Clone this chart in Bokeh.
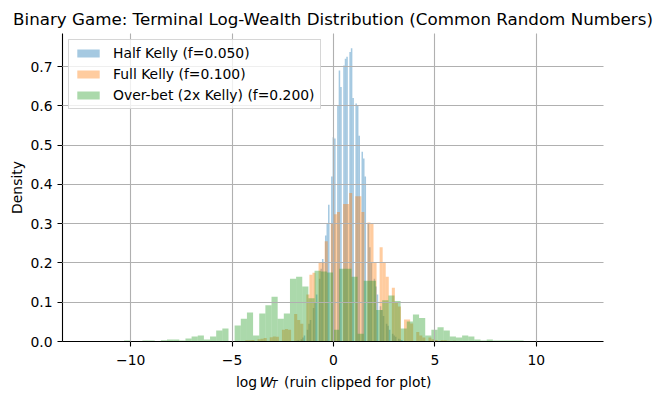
import numpy as np
from bokeh.plotting import figure
from bokeh.layouts import column
from bokeh.models import Range1d, FixedTicker, PrintfTickFormatter, Label, ColumnDataSource
from bokeh.embed import file_html
from bokeh.resources import INLINE

# ---- data ----
series_labels = ["Half Kelly (f=0.050)", "Full Kelly (f=0.100)", "Over-bet (2x Kelly) (f=0.200)"]
series_colors = ["#1f77b4", "#ff7f0e", "#2ca02c"]

# histogram bin ranges (80 bins each)
half_range = (-2.07, 3.93)
full_range = (-4.8, 7.24)
over_range = (-12.15, 12.1)

half_density = [
    0, 0, 0.001, 0.002, 0.003, 0, 0.006, 0.01, 0.015, 0,
    0.03, 0.045, 0.055, 0, 0.085, 0.1, 0.12, 0, 0.16, 0.185,
    0.21, 0, 0.27, 0.30, 0.348, 0, 0.42, 0.52, 0.517, 0,
    0.60, 0.69, 0.648, 0, 0.703, 0.72, 0.725, 0, 0.737, 0.747,
    0.62, 0, 0.606, 0.60, 0.524, 0, 0.483, 0.466, 0.42, 0,
    0.30, 0.24, 0.20, 0, 0.16, 0.14, 0.12, 0, 0.09, 0.08,
    0.065, 0, 0.045, 0.04, 0.03, 0, 0.02, 0.015, 0.012, 0,
    0.007, 0.005, 0.004, 0, 0.002, 0.0015, 0.001, 0, 0.0005, 0.0005,
]
full_density = [
    0, 0, 0, 0.003, 0.003, 0.004, 0, 0.006, 0.007, 0.009,
    0, 0.011, 0.013, 0.012, 0, 0.03, 0.032, 0.03, 0, 0.07,
    0.055, 0.045, 0, 0.12, 0.17, 0.175, 0, 0.2, 0.2, 0.255,
    0, 0.3, 0.324, 0.33, 0, 0.35, 0.35, 0.378, 0, 0.37,
    0.37, 0.33, 0, 0.303, 0.3, 0.2, 0, 0.24, 0.2, 0.165,
    0, 0.137, 0.1, 0.089, 0, 0.056, 0.056, 0.046, 0, 0.024,
    0.015, 0.01, 0, 0.01, 0.006, 0.004, 0, 0.003, 0.003, 0.002,
    0, 0.002, 0.001, 0, 0, 0, 0, 0, 0, 0,
]
over_density = [
    0, 0, 0, 0, 0, 0, 0.0025, 0, 0, 0.0025,
    0.0025, 0, 0.0034, 0.005, 0.005, 0.0025, 0.0076, 0.0127, 0.015, 0.005,
    0.0127, 0.028, 0.033, 0, 0.041, 0.058, 0.074, 0.015, 0.071, 0.092,
    0.114, 0.058, 0.071, 0.16, 0.165, 0.14, 0.11, 0.18, 0.178, 0.176,
    0.03, 0.185, 0.185, 0.165, 0.02, 0.155, 0.155, 0.08, 0.105, 0.117,
    0.103, 0.033, 0.051, 0.069, 0.06, 0.015, 0.03, 0.036, 0.028, 0.013,
    0.01, 0.015, 0.013, 0.005, 0.0025, 0.005, 0.0025, 0.0025, 0.0025, 0.0025,
    0.0025, 0, 0, 0, 0, 0, 0, 0, 0, 0,
]

x_ticks = [-10, -5, 0, 5, 10]
x_tick_labels = {-10: "\u221210", -5: "\u22125", 0: "0", 5: "5", 10: "10"}
y_ticks = [0.0, 0.1, 0.2, 0.3, 0.4, 0.5, 0.6, 0.7]

title_text = "Binary Game: Terminal Log-Wealth Distribution (Common Random Numbers)"
FONT = "DejaVu Sans"

series = [(half_range, half_density), (full_range, full_density), (over_range, over_density)]

all_lo = min(r[0] for r, _ in series)
all_hi = max(r[1] for r, _ in series)
span = all_hi - all_lo
ymax = max(max(d) for _, d in series) * 1.05

W = 661
BL, BR = 62, 58
p = figure(width=W, height=370, output_backend="svg", toolbar_location=None,
           x_range=Range1d(all_lo - 0.05 * span, all_hi + 0.05 * span),
           y_range=Range1d(0, ymax),
           min_border_left=BL, min_border_right=BR, min_border_top=33, min_border_bottom=29)

for (rng, dens), lab, col in zip(series, series_labels, series_colors):
    edges = np.linspace(rng[0], rng[1], len(dens) + 1)
    src = ColumnDataSource(dict(left=edges[:-1], right=edges[1:], top=dens))
    p.quad(left="left", right="right", top="top", bottom=0, source=src,
           fill_color=col, fill_alpha=0.4, line_color=None, legend_label=lab)

p.outline_line_color = None
p.background_fill_color = "white"

p.title.text = title_text
p.title.text_font = FONT
p.title.text_font_size = "16.7px"
p.title.text_font_style = "normal"
p.title.align = "center"
p.title.text_color = "black"
p.title.standoff = 9

for ax in (p.xaxis, p.yaxis):
    ax.axis_line_color = "black"
    ax.axis_line_width = 1.1
    ax.major_tick_line_color = "black"
    ax.major_tick_line_width = 1.1
    ax.major_tick_out = 5
    ax.major_tick_in = 0
    ax.minor_tick_line_color = None
    ax.major_label_text_font = FONT
    ax.major_label_text_font_size = "13.9px"
    ax.major_label_text_color = "black"
    ax.major_label_standoff = 5

p.xaxis.major_label_standoff = 8
p.xaxis.ticker = FixedTicker(ticks=x_ticks)
p.xaxis.major_label_overrides = x_tick_labels
p.yaxis.ticker = FixedTicker(ticks=y_ticks)
p.yaxis.formatter = PrintfTickFormatter(format="%.1f")

p.yaxis.axis_label = "Density"
p.yaxis.axis_label_text_font = FONT
p.yaxis.axis_label_text_font_size = "13.9px"
p.yaxis.axis_label_text_font_style = "normal"
p.yaxis.axis_label_text_color = "black"
p.yaxis.axis_label_standoff = 2

p.grid.grid_line_color = "#b0b0b0"
p.grid.grid_line_width = 1.1
p.grid.level = "guide"

lg = p.legend[0]
lg.location = "top_left"
lg.margin = 6
lg.padding = 5
lg.spacing = 5
lg.glyph_width = 28
lg.glyph_height = 10
lg.label_height = 14
lg.label_standoff = 11
lg.label_text_font = FONT
lg.label_text_font_size = "13.9px"
lg.label_text_color = "black"
lg.border_line_color = "#cccccc"
lg.border_line_alpha = 0.8
lg.background_fill_alpha = 0.8

# x axis label strip: log W_T (ruin clipped for plot); frame aligned with the main frame,
# its x range expressed in page pixels
LH = 24
q = figure(width=W, height=LH, output_backend="svg", toolbar_location=None,
           x_range=Range1d(BL, W - BR), y_range=Range1d(0, LH),
           x_axis_type=None, y_axis_type=None,
           min_border_left=BL, min_border_right=BR, min_border_top=0, min_border_bottom=0)
q.outline_line_color = None
q.grid.visible = False
q.title.text = ""
q.title.standoff = 0
q.title.text_font_size = "0px"
base_y = 13
parts = [
    ("log", 235.5, base_y, "13.9px", "normal"),
    ("W", 259.0, base_y, "13.9px", "italic"),
    ("T", 271.0, base_y - 3, "9.7px", "italic"),
    ("(ruin clipped for plot)", 283.5, base_y, "13.9px", "normal"),
]
for txt, sx, sy, fs, st in parts:
    q.add_layout(Label(x=sx, y=sy, text=txt,
                       text_font=FONT, text_font_size=fs, text_font_style=st,
                       text_color="black", text_align="left", text_baseline="alphabetic"))

layout = column(p, q, spacing=0)
open("out.html", "w").write(file_html(layout, INLINE))
